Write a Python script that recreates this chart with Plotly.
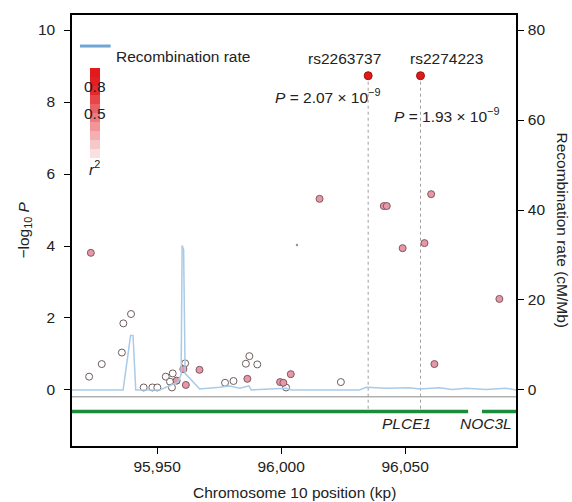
import plotly.graph_objects as go

# ---------------- data ----------------
# SNPs with moderate LD (pink)
pos_ld = [95923.3, 96015.5, 96041.4, 96042.6, 96060.5, 96049.0, 96057.8, 96088.0, 96061.8,
          95957.9, 95960.6, 95961.6, 95967.1, 95986.4, 95999.6, 96000.9, 96003.9]
logp_ld = [3.81, 5.31, 5.11, 5.11, 5.44, 3.94, 4.08, 2.53, 0.72,
           0.26, 0.58, 0.14, 0.56, 0.31, 0.22, 0.20, 0.44]
# SNPs with low LD (hollow)
pos_low = [95922.6, 95927.7, 95935.8, 95936.4, 95939.5, 95944.6, 95948.1, 95950.1, 95953.5,
           95956.3, 95955.2, 95956.0, 95961.3, 95977.4, 95980.8, 95985.8, 95987.2, 95990.4,
           96002.0, 96024.1]
logp_low = [0.37, 0.72, 1.04, 1.85, 2.11, 0.07, 0.07, 0.07, 0.37,
            0.46, 0.23, 0.07, 0.74, 0.20, 0.25, 0.73, 0.94, 0.71,
            0.07, 0.22]
# tiny speck
pos_speck = [96006.4]
logp_speck = [4.03]
# lead SNPs
lead_names = ["rs2263737", "rs2274223"]
lead_pos = [96035.1, 96056.2]
lead_logp = [8.73, 8.73]
lead_name_pos = [96025.6, 96066.6]
lead_pval_mant = ["2.07", "1.93"]
lead_pval_exp = ["−9", "−9"]

# recombination rate (cM/Mb)
rec_pos = [95915.7, 95936.3, 95939.3, 95940.3, 95941.4, 95951.1, 95958.5, 95959.7, 95960.1,
           95960.7, 95961.3, 95967.2, 95975.2, 95979.3, 95983.3, 95987.0, 95988.0, 95995.4,
           96002.1, 96004.1, 96031.6, 96034.3, 96042.4, 96051.7, 96055.8, 96063.8, 96069.0,
           96074.6, 96082.6, 96090.7, 96094.7]
rec_rate = [0.0, 0.0, 12.1, 12.1, 0.0, 0.0, 1.8, 3.5, 32.1,
            31.2, 3.7, 0.2, 0.6, 0.9, 0.4, 0.9, 0.0, 0.2,
            0.4, 0.0, 0.0, 0.6, 0.4, 0.5, 0.2, 0.5, 0.1,
            0.4, 0.1, 0.4, 0.0]

# genes
gene_names = ["PLCE1", "NOC3L"]
gene_start = [95900.0, 96081.0]
gene_end = [96075.4, 96110.0]
gene_label_pos = [96050.4, 96082.6]

# r2 colour key
r2_lower = [0.9, 0.8, 0.7, 0.6, 0.5, 0.4, 0.3, 0.2, 0.1, 0.0]
r2_colors = ["#e11b1d", "#e31f22", "#e4292c", "#e84548", "#eb6063",
             "#ee7a7e", "#f19598", "#f4afb2", "#f7c8ca", "#fae0e1"]
r2_labels = ["0.8", "0.5"]

# axis ticks
x_ticks = [95950, 96000, 96050]
x_range = [95915.7, 96094.7]
y_range = [-1.556, 10.417]
y2_range = [y_range[0] * 8, y_range[1] * 8]
gene_y = -0.60
sep_y = -0.19

FONT = "Liberation Sans, Arial, sans-serif"
FS = 15.5
TXT = "#222"

fig = go.Figure()

# recombination rate
fig.add_trace(go.Scatter(x=rec_pos, y=rec_rate, mode="lines", yaxis="y2",
                         line=dict(color="#a9cbe8", width=1.5), hoverinfo="skip",
                         showlegend=False))

# dotted verticals from lead SNPs
for p, lp in zip(lead_pos, lead_logp):
    fig.add_trace(go.Scatter(x=[p, p], y=[lp, gene_y], mode="lines",
                             line=dict(color="#a0a0a0", width=1, dash="dot"),
                             showlegend=False, hoverinfo="skip"))

# gene bars
for s, e in zip(gene_start, gene_end):
    fig.add_trace(go.Scatter(x=[s, e], y=[gene_y, gene_y], mode="lines",
                             line=dict(color="#1b8c3c", width=3.5),
                             showlegend=False, hoverinfo="skip"))

# hollow points
fig.add_trace(go.Scatter(x=pos_low, y=logp_low, mode="markers",
                         marker=dict(size=7, color="white",
                                     line=dict(color="#6e5e5e", width=1)),
                         showlegend=False))
# pink points
fig.add_trace(go.Scatter(x=pos_ld, y=logp_ld, mode="markers",
                         marker=dict(size=7, color="#e996a6",
                                     line=dict(color="#7a5a60", width=1)),
                         showlegend=False))
# speck
fig.add_trace(go.Scatter(x=pos_speck, y=logp_speck, mode="markers",
                         marker=dict(size=2.5, color="#a08ca0"),
                         showlegend=False))
# lead points
fig.add_trace(go.Scatter(x=lead_pos, y=lead_logp, mode="markers",
                         marker=dict(size=8, color="#e01a1a",
                                     line=dict(color="#a01010", width=1)),
                         showlegend=False))

# r2 key as stacked bar on its own small axes
fig.add_trace(go.Bar(x=[0] * len(r2_lower), y=[0.1] * len(r2_lower), base=r2_lower,
                     marker=dict(color=r2_colors, line=dict(width=0)),
                     xaxis="x3", yaxis="y3", width=1, showlegend=False,
                     hoverinfo="skip"))

annotations = []
for name, p in zip(lead_names, lead_name_pos):
    annotations.append(dict(x=p, y=9.22, xref="x", yref="y", text=name,
                            showarrow=False, font=dict(size=FS, family=FONT, color=TXT)))
annotations.append(dict(x=96040.6, y=8.17, xref="x", yref="y", xanchor="right",
                        text=f"<i>P</i> = {lead_pval_mant[0]} × 10<sup>{lead_pval_exp[0]}</sup>",
                        showarrow=False, font=dict(size=FS, family=FONT, color=TXT)))
annotations.append(dict(x=96088.8, y=7.64, xref="x", yref="y", xanchor="right",
                        text=f"<i>P</i> = {lead_pval_mant[1]} × 10<sup>{lead_pval_exp[1]}</sup>",
                        showarrow=False, font=dict(size=FS, family=FONT, color=TXT)))
for g, gp in zip(gene_names, gene_label_pos):
    annotations.append(dict(x=gp, y=-0.92, xref="x", yref="y", text=f"<i>{g}</i>",
                            showarrow=False, font=dict(size=FS, family=FONT, color=TXT)))
for lab in r2_labels:
    annotations.append(dict(x=0, y=float(lab), xref="x3", yref="y3", text=lab,
                            showarrow=False, font=dict(size=FS, family=FONT, color=TXT)))
annotations.append(dict(x=0, y=-0.11, xref="x3", yref="y3", text="<i>r</i><sup>2</sup>",
                        showarrow=False, font=dict(size=FS, family=FONT, color=TXT)))
# legend text
annotations.append(dict(x=0.095, y=0.928, xref="paper", yref="paper", xanchor="left",
                        text="Recombination rate", showarrow=False,
                        font=dict(size=FS, family=FONT, color=TXT)))
# axis titles
annotations.append(dict(x=0, y=0.5, xref="paper", yref="paper", xanchor="center",
                        yanchor="middle", xshift=-48,
                        text="−log<sub>10</sub> <i>P</i>", textangle=-90,
                        showarrow=False, font=dict(size=FS, family=FONT, color=TXT)))
annotations.append(dict(x=1, y=0.5, xref="paper", yref="paper", xanchor="center",
                        yanchor="middle", xshift=46,
                        text="Recombination rate (cM/Mb)", textangle=90,
                        showarrow=False, font=dict(size=FS, family=FONT, color=TXT)))
annotations.append(dict(x=0.5, y=0, xref="paper", yref="paper", xanchor="center",
                        yanchor="middle", yshift=-46,
                        text="Chromosome 10 position (kp)",
                        showarrow=False, font=dict(size=FS, family=FONT, color=TXT)))

shapes = [
    dict(type="line", xref="paper", yref="y", x0=0, x1=1, y0=sep_y, y1=sep_y,
         line=dict(color="#8a8a8a", width=1)),
    dict(type="line", xref="paper", yref="paper", x0=0.018, x1=0.087, y0=0.928, y1=0.928,
         line=dict(color="#6fa6d6", width=3)),
]

axis_common = dict(showgrid=False, zeroline=False, ticks="outside", ticklen=6,
                   tickcolor="black", linecolor="black", linewidth=1.5, showline=True,
                   automargin=False,
                   tickfont=dict(size=FS, family=FONT, color=TXT))

fig.update_layout(
    width=572, height=502,
    margin=dict(l=72, r=56, t=15, b=56),
    paper_bgcolor="white", plot_bgcolor="white",
    xaxis=dict(range=x_range, tickvals=x_ticks, tickformat=",", mirror=True,
               **axis_common),
    yaxis=dict(range=y_range, tickvals=[0, 2, 4, 6, 8, 10], ticklabelstandoff=6,
               **axis_common),
    yaxis2=dict(range=y2_range, tickvals=[0, 20, 40, 60, 80], overlaying="y", side="right",
                ticklabelstandoff=1, **axis_common),
    xaxis3=dict(domain=[0.0405, 0.063], range=[-0.5, 0.5], visible=False, anchor="y3"),
    yaxis3=dict(domain=[0.6265, 0.877], range=[-0.2, 1], visible=False, anchor="x3"),
    annotations=annotations,
    shapes=shapes,
    bargap=0,
)

fig.write_html("out.html", config={"displayModeBar": False},
               post_script="document.body.style.margin='0px';document.body.style.padding='0px';")
